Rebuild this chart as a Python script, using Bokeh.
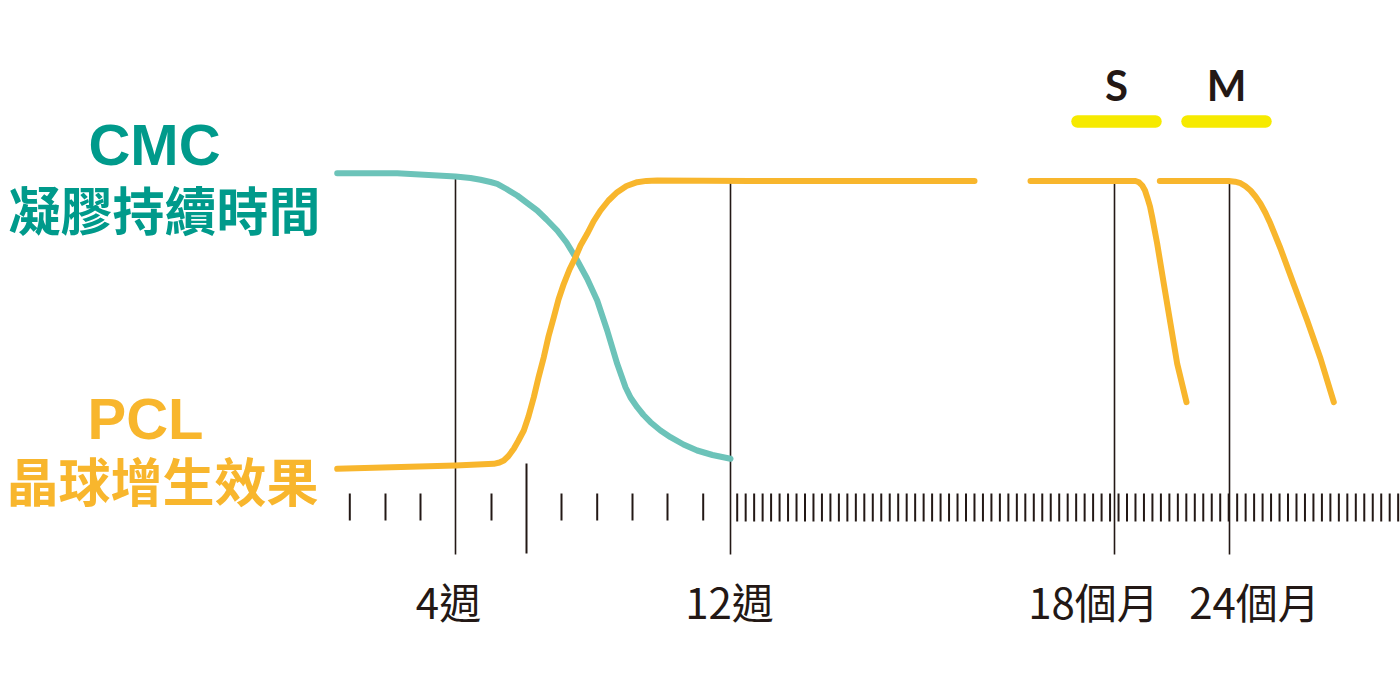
from bokeh.plotting import figure
from bokeh.models import Range1d
from bokeh.core.properties import value
from bokeh.embed import file_html
from bokeh.resources import INLINE

# ---- data (schematic units) ----
CMC_X = [336.7, 396.7, 455, 470, 480, 490, 496.7, 506, 516.7, 526, 536.7, 546, 556.7,
         566, 575, 586.7, 596.7, 606.7, 616.7, 625, 630, 636.7, 643, 650, 660, 670,
         683, 696.7, 712, 730]
CMC_Y = [172.7, 172.7, 176, 177.5, 179.3, 181.5, 183.3, 188.5, 195, 202, 210, 219, 230,
         242, 256.7, 278.3, 300, 330, 363.3, 386.7, 397, 406.7, 414.5, 421.7, 430, 436.7,
         444, 450, 454.5, 458.3]

PCL_X = [336.7, 455, 493.3, 499, 503.3, 508, 513.3, 518, 523.3, 528, 533.3, 538, 543.3,
         548, 553.3, 558, 563.3, 569, 575, 580, 586.7, 593, 600, 608, 616.7, 626, 636.7,
         646, 656.7, 750, 974]
PCL_Y = [468.3, 465, 463.3, 462, 460, 455.5, 448.3, 440, 430, 416, 396.7, 377, 356.7,
         336, 316.7, 299, 283.3, 269, 256.7, 245, 233.3, 221, 210, 200, 191.7, 185.5, 181.7,
         180.4, 180, 180.5, 180.5]

PCL_S_X = [1030, 1135, 1138.5, 1141.7, 1144.5, 1146.7, 1149.5, 1151.7, 1156.7, 1163.3,
           1170, 1176.7, 1186]
PCL_S_Y = [180.5, 180.5, 181.8, 185, 190, 196.7, 206, 216.7, 243.3, 283.3,
           323.3, 363.3, 401.7]

PCL_M_X = [1159.3, 1228.3, 1234.5, 1240, 1245, 1250, 1255, 1260, 1265, 1270, 1280,
           1293.3, 1306.7, 1320, 1333.3]
PCL_M_Y = [180.5, 180.5, 181.2, 182.7, 185.8, 190, 196, 203.3, 212.5, 223.3, 248,
           284, 320, 358, 401.7]

WEEK_TICK_X = [349.3, 385, 420, 491, 561, 596.7, 632, 667, 702.7]
MONTH_TICK_START = 736.7
MONTH_TICK_STEP = 8.474
MONTH_TICK_COUNT = 79

MARK_X = [455, 730, 1114, 1229]          # 4週, 12週, 18個月, 24個月
MARK_TOP = [176, 181, 181, 181]
MARK_LABELS = ["4週", "12週", "18個月", "24個月"]
MARK_LABEL_X = [448, 729, 1093, 1254]

SIZE_LABELS = ["S", "M"]
SIZE_X0 = [1077, 1187]
SIZE_X1 = [1155, 1265]

# ---- colours ----
TEAL_LINE = "#6cc3b9"
TEAL_TEXT = "#009a8b"
ORANGE = "#f8b62d"
DARK = "#231815"
YELLOW = "#f6ea00"

p = figure(width=1400, height=694, output_backend="svg", toolbar_location=None,
           x_axis_type=None, y_axis_type=None, min_border=0,
           x_range=Range1d(0, 1400), y_range=Range1d(694, 0))
p.outline_line_color = None
p.grid.visible = False
p.background_fill_color = "white"

# axis ticks
p.segment(x0=WEEK_TICK_X, y0=[493] * len(WEEK_TICK_X), x1=WEEK_TICK_X,
          y1=[520] * len(WEEK_TICK_X), line_color=DARK, line_width=2)
mx = [MONTH_TICK_START + MONTH_TICK_STEP * k for k in range(MONTH_TICK_COUNT)]
p.segment(x0=mx, y0=[493] * len(mx), x1=mx, y1=[521] * len(mx),
          line_color=DARK, line_width=2)
# taller tick
p.segment(x0=[526], y0=[463], x1=[526], y1=[553], line_color=DARK, line_width=2)
# marker lines
p.segment(x0=MARK_X, y0=MARK_TOP, x1=MARK_X, y1=[554] * len(MARK_X),
          line_color=DARK, line_width=1.6)

# curves
p.line(CMC_X, CMC_Y, line_color=TEAL_LINE, line_width=6, line_cap="round", line_join="round")
for xs, ys in [(PCL_X, PCL_Y), (PCL_S_X, PCL_S_Y), (PCL_M_X, PCL_M_Y)]:
    p.line(xs, ys, line_color=ORANGE, line_width=6, line_cap="round", line_join="round")

# size bars
p.segment(x0=SIZE_X0, y0=[121, 121], x1=SIZE_X1, y1=[121, 121],
          line_color=YELLOW, line_width=12.5, line_cap="round")
p.text(x=[(a + b) / 2 for a, b in zip(SIZE_X0, SIZE_X1)], y=[84, 84], text=SIZE_LABELS,
       text_font=value("Lato"), text_font_style="bold", text_font_size="42px",
       text_color=DARK, text_align="center", text_baseline="middle")

# bottom labels
p.text(x=MARK_LABEL_X, y=[600] * 4, text=MARK_LABELS,
       text_font=value("Noto Sans CJK TC"), text_font_size="42px",
       text_color=DARK, text_align="center", text_baseline="middle")

# left labels
p.text(x=[154], y=[144], text=["CMC"], text_font=value("Liberation Sans"),
       text_font_style="bold", text_font_size="58px", text_color=TEAL_TEXT,
       text_align="center", text_baseline="middle")
p.text(x=[164], y=[208], text=["凝膠持續時間"], text_font=value("Noto Sans CJK TC"),
       text_font_style="bold", text_font_size="52px", text_color=TEAL_TEXT,
       text_align="center", text_baseline="middle")
p.text(x=[145], y=[418], text=["PCL"], text_font=value("Liberation Sans"),
       text_font_style="bold", text_font_size="58px", text_color=ORANGE,
       text_align="center", text_baseline="middle")
p.text(x=[162], y=[479], text=["晶球增生效果"], text_font=value("Noto Sans CJK TC"),
       text_font_style="bold", text_font_size="52px", text_color=ORANGE,
       text_align="center", text_baseline="middle")

open("out.html", "w").write(file_html(p, INLINE))
